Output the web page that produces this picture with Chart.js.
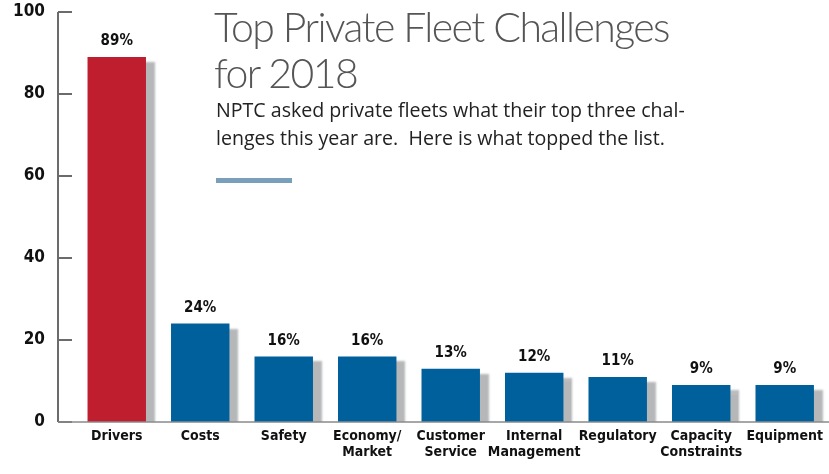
<!DOCTYPE html>
<html>
<head>
<meta charset="utf-8">
<script src="https://cdn.jsdelivr.net/npm/chart.js@4"></script>
<style>
  body { margin: 0; background: #fff; }
  #wrap { position: relative; width: 829px; height: 474px; }
  canvas { position: absolute; left: 0; top: 0; }
  .title {
    position: absolute; left: 214px; top: 4px;
    font-family: "Lato", "Open Sans", sans-serif; font-weight: 300;
    font-size: 41px; line-height: 46px; color: #555; letter-spacing: -1.6px;
  }
  .sub {
    position: absolute; left: 216px; top: 96px;
    font-family: "Open Sans", "Noto Sans", sans-serif;
    font-size: 19.6px; line-height: 28px; color: #222;
  }
  .rule {
    position: absolute; left: 216px; top: 178px;
    width: 76px; height: 5px; background: #7a9fba;
  }
</style>
</head>
<body>
<div id="wrap">
  <canvas id="chart" width="829" height="474"></canvas>
  <div class="title">Top Private Fleet Challenges<br>for 2018</div>
  <div class="sub">NPTC asked private fleets what their top three chal-<br>lenges this year are.&nbsp; Here is what topped the list.</div>
  <div class="rule"></div>
</div>
<script>
const categories = [
  "Drivers", "Costs", "Safety", ["Economy/", "Market"], ["Customer", "Service"],
  ["Internal", "Management"], "Regulatory", ["Capacity", "Constraints"], "Equipment"
]
const values = [89, 24, 16, 16, 13, 12, 11, 9, 9]
const valueLabels = ["89%", "24%", "16%", "16%", "13%", "12%", "11%", "9%", "9%"]
const barColors = ["#be1e2d", "#00609c", "#00609c", "#00609c", "#00609c", "#00609c", "#00609c", "#00609c", "#00609c"]

const heavyFont = "'Liberation Sans Narrow', 'DejaVu Sans Condensed', Arial, sans-serif"

// soft grey shadow behind each bar
const barShadow = {
  id: "barShadow",
  beforeDatasetsDraw(chart) {
    const ctx = chart.ctx
    ctx.save()
    ctx.shadowColor = "rgba(120, 124, 128, 0.55)"
    ctx.shadowOffsetX = 9
    ctx.shadowOffsetY = 5
    ctx.shadowBlur = 2
  },
  afterDatasetsDraw(chart) {
    chart.ctx.restore()
  }
}

// axis line, inward tick marks and baseline
const axisLines = {
  id: "axisLines",
  afterDraw(chart) {
    const ctx = chart.ctx
    const y = chart.scales.y
    const axisX = chart.chartArea.left - 17
    ctx.save()
    ctx.strokeStyle = "#6b6b6b"
    ctx.lineWidth = 2
    ctx.beginPath()
    ctx.moveTo(axisX, y.getPixelForValue(100))
    ctx.lineTo(axisX, y.getPixelForValue(0))
    ctx.stroke()
    y.ticks.forEach((t) => {
      const py = y.getPixelForValue(t.value)
      ctx.beginPath()
      ctx.moveTo(axisX, py)
      ctx.lineTo(axisX + 14, py)
      ctx.stroke()
    })
    ctx.strokeStyle = "#8a8a8a"
    ctx.lineWidth = 1.5
    ctx.beginPath()
    ctx.moveTo(axisX, y.getPixelForValue(0))
    ctx.lineTo(chart.width, y.getPixelForValue(0))
    ctx.stroke()
    ctx.restore()
  }
}

// percentage labels above bars
const valueText = {
  id: "valueText",
  afterDatasetsDraw(chart) {
    const ctx = chart.ctx
    const meta = chart.getDatasetMeta(0)
    ctx.save()
    ctx.fillStyle = "#111"
    ctx.font = "bold 15px " + heavyFont
    ctx.textAlign = "center"
    ctx.textBaseline = "bottom"
    meta.data.forEach((bar, i) => {
      ctx.fillText(valueLabels[i], bar.x, bar.y - 8)
    })
    ctx.restore()
  }
}

new Chart(document.getElementById("chart"), {
  type: "bar",
  data: {
    labels: categories,
    datasets: [{
      data: values,
      backgroundColor: barColors,
      borderWidth: 0,
      barPercentage: 0.7,
      categoryPercentage: 1.0
    }]
  },
  options: {
    responsive: false,
    animation: false,
    layout: { padding: 0 },
    plugins: { legend: { display: false }, tooltip: { enabled: false } },
    scales: {
      x: {
        offset: true,
        grid: { display: false, drawTicks: false },
        border: { display: false },
        afterFit: (scale) => { scale.height = 52 },
        ticks: {
          color: "#111",
          font: { family: heavyFont, weight: "bold", size: 14, lineHeight: 1.15 },
          padding: 6,
          maxRotation: 0,
          autoSkip: false
        }
      },
      y: {
        min: 0,
        max: 100,
        grid: { display: false, drawTicks: false },
        border: { display: false },
        afterFit: (scale) => {
          scale.width = 75
          scale.paddingTop = 12
          scale.paddingBottom = 0
        },
        ticks: {
          stepSize: 20,
          color: "#111",
          font: { family: heavyFont, weight: "bold", size: 17 },
          padding: 30
        }
      }
    }
  },
  plugins: [barShadow, axisLines, valueText]
})
</script>
</body>
</html>
